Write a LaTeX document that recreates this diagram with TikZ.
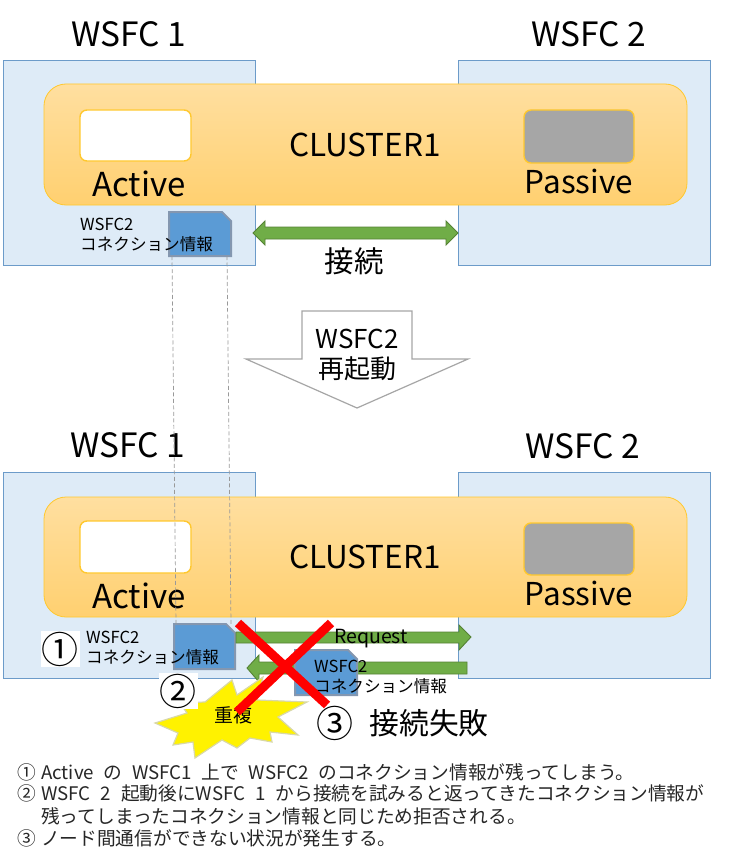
\documentclass[tikz,border=0pt]{standalone}
\usepackage{fontspec}
\setmainfont{Noto Sans CJK JP}
\usetikzlibrary{shapes.arrows}
\definecolor{boxblue}{HTML}{DEEBF7}
\definecolor{boxedge}{HTML}{6C9BC9}
\definecolor{gold}{HTML}{FFC82E}
\definecolor{orangetop}{HTML}{FFDFA0}
\definecolor{orangebot}{HTML}{FFD070}
\definecolor{docblue}{HTML}{5B9BD5}
\definecolor{docedge}{HTML}{8497B0}
\definecolor{grn}{HTML}{70AD47}
\definecolor{grnedge}{HTML}{558235}
\definecolor{burstedge}{HTML}{D8D8A8}
\newcommand{\notewide}[2]{\spaceskip=#1pt\relax #2}
\tikzset{
  x=1pt,y=-1pt,
  panel/.style={draw=boxedge,fill=boxblue,line width=.8pt},
  band/.style={draw=gold,top color=orangetop,bottom color=orangebot,line width=.8pt,rounded corners=22pt},
  slot/.style={draw=gold,line width=1.4pt,rounded corners=7pt},
  doc/.style={fill=docblue,draw=docedge,line width=2pt},
  dashedguide/.style={draw=gray!80,line width=.7pt,dash pattern=on 4pt off 2.5pt},
  greenarrow/.style={fill=grn,draw=grnedge,line width=.9pt},
  title/.style={font=\fontsize{33.5}{36}\selectfont,inner sep=0pt},
  label/.style={font=\fontsize{31.5}{36}\selectfont,inner sep=0pt},
  activelabel/.style={font=\fontsize{33}{36}\selectfont,inner sep=0pt},
  small/.style={font=\fontsize{16.6}{20}\selectfont,inner sep=0pt,align=left,anchor=north west},
  body/.style={font=\fontsize{18.7}{20}\selectfont,inner sep=0pt,anchor=west,text=black!85},
  num/.style={font=\fontsize{37}{40}\selectfont,inner sep=0pt},
}
\begin{document}
\begin{tikzpicture}
\useasboundingbox (0,0) rectangle (741,864);
\fill[white] (0,0) rectangle (741,864);
% upper
\node[title] (t1) at (129,34) {WSFC 1};
\node[title] (t2) at (589,34) {WSFC 2};
\draw[panel] (3,60) rectangle (255,265);
\draw[panel] (458,60) rectangle (710,265);
\draw[band] (44,84) rectangle (687,205);
\draw[slot,fill=white] (80,110) rectangle (191,161);
\draw[slot,fill=gray!70] (524,110) rectangle (634,163);
\node[label] (c1) at (365,145) {CLUSTER1};
\node[activelabel] (a1) at (139,184) {Active};
\node[label] (p1) at (579,181) {Passive};
\draw[doc] (169,212) -- (222,212) -- (231,221) -- (231,256) -- (169,256) -- cycle;
\node[small] (i1) at (80,218) {WSFC2\\コネクション情報};
\draw[greenarrow] (253,233) -- (265,221) -- (265,227) -- (446,227) -- (446,221) -- (458,233) -- (446,245) -- (446,239) -- (265,239) -- (265,245) -- cycle;
\node[font=\fontsize{29.5}{30}\selectfont,inner sep=0pt] (k1) at (354,261) {接続};
% block arrow
\draw[draw=gray!70,fill=white,line width=1.2pt] (302,311) -- (412,311) -- (412,359) -- (468,359) -- (357,408) -- (246,359) -- (302,359) -- cycle;
\node[font=\fontsize{26}{30}\selectfont,inner sep=0pt,align=center] (w) at (357,355) {WSFC2\\再起動};
% lower
\node[title] (t3) at (128,445) {WSFC 1};
\node[title] (t4) at (583,446) {WSFC 2};
\draw[panel] (3,472) rectangle (255,678);
\draw[panel] (458,472) rectangle (710,678);
\draw[band] (44,497) rectangle (687,617);
\draw[slot,fill=white] (80,521) rectangle (191,573);
\draw[slot,fill=gray!70] (524,523) rectangle (634,575);
\node[label] (c2) at (365,557) {CLUSTER1};
\node[activelabel] (a2) at (139,596) {Active};
\node[label] (p2) at (579,593) {Passive};
\draw[doc] (174,624) -- (226,624) -- (235,633) -- (235,669) -- (174,669) -- cycle;
\node[small] (i2) at (86,631) {WSFC2\\コネクション情報};
\coordinate (g1a) at (172,256); \coordinate (g1b) at (176,624);
\coordinate (g2a) at (227,256); \coordinate (g2b) at (231,624);
\draw[dashedguide] (g1a) -- (g1b);
\draw[dashedguide] (g2a) -- (g2b);
\node[num,fill=white,inner sep=1pt] (n1) at (60,649) {①};
% arrows
\draw[greenarrow] (236,632) -- (459,632) -- (459,625) -- (471,637) -- (459,650) -- (459,643) -- (236,643) -- cycle;
\node[font=\fontsize{19.5}{20}\selectfont,inner sep=0pt] (req) at (371,639) {Request};
\draw[greenarrow] (467,662) -- (259,662) -- (259,655) -- (247,668) -- (259,682) -- (259,674) -- (467,674) -- cycle;
\draw[doc] (295,650) -- (348,650) -- (357,659) -- (357,695) -- (295,695) -- cycle;
\node[small] (i3) at (314,660) {WSFC2\\コネクション情報};
% burst
\draw[fill=yellow,draw=burstedge,line width=1.2pt]
 (155,723) -- (187,713) -- (180,703) -- (205,702) -- (232,680) -- (237,695) -- (263,677) -- (257,700) -- (307,702) -- (278,717) -- (298,735) -- (270,732) -- (272,742) -- (250,738) -- (237,748) -- (222,740) -- (195,758) -- (193,742) -- (173,745) -- (178,733) -- cycle;
\node[font=\fontsize{19}{20}\selectfont,inner sep=0pt] (dup) at (233,715) {重複};
\node[num,fill=white,inner sep=1pt] (n2) at (178,691) {②};
% red cross
\coordinate (x1) at (238,623); \coordinate (x2) at (327,705);
\coordinate (x3) at (331,623); \coordinate (x4) at (237,712);
\draw[red,line width=9pt] (x1) -- (x2);
\draw[red,line width=9pt] (x3) -- (x4);
\node[num] (n3) at (335,723) {③};
\node[font=\fontsize{29.8}{30}\selectfont,inner sep=0pt] (fail) at (429,723) {接続失敗};
% notes
\node[body] (b1) at (17,772) {①\hspace{5.3pt}\notewide{9.7}{Active の WSFC1 上で WSFC2 のコネクション情報が残ってしまう。}};
\node[body] (b2) at (17,793) {②\hspace{5.3pt}\notewide{10}{WSFC 2 起動後にWSFC 1 から接続を試みると返ってきたコネクション情報が}};
\node[body] (b3) at (41,816) {残ってしまったコネクション情報と同じため拒否される。};
\node[body] (b4) at (17,838) {③\hspace{5.3pt}ノード間通信ができない状況が発生する。};
\end{tikzpicture}
\end{document}
